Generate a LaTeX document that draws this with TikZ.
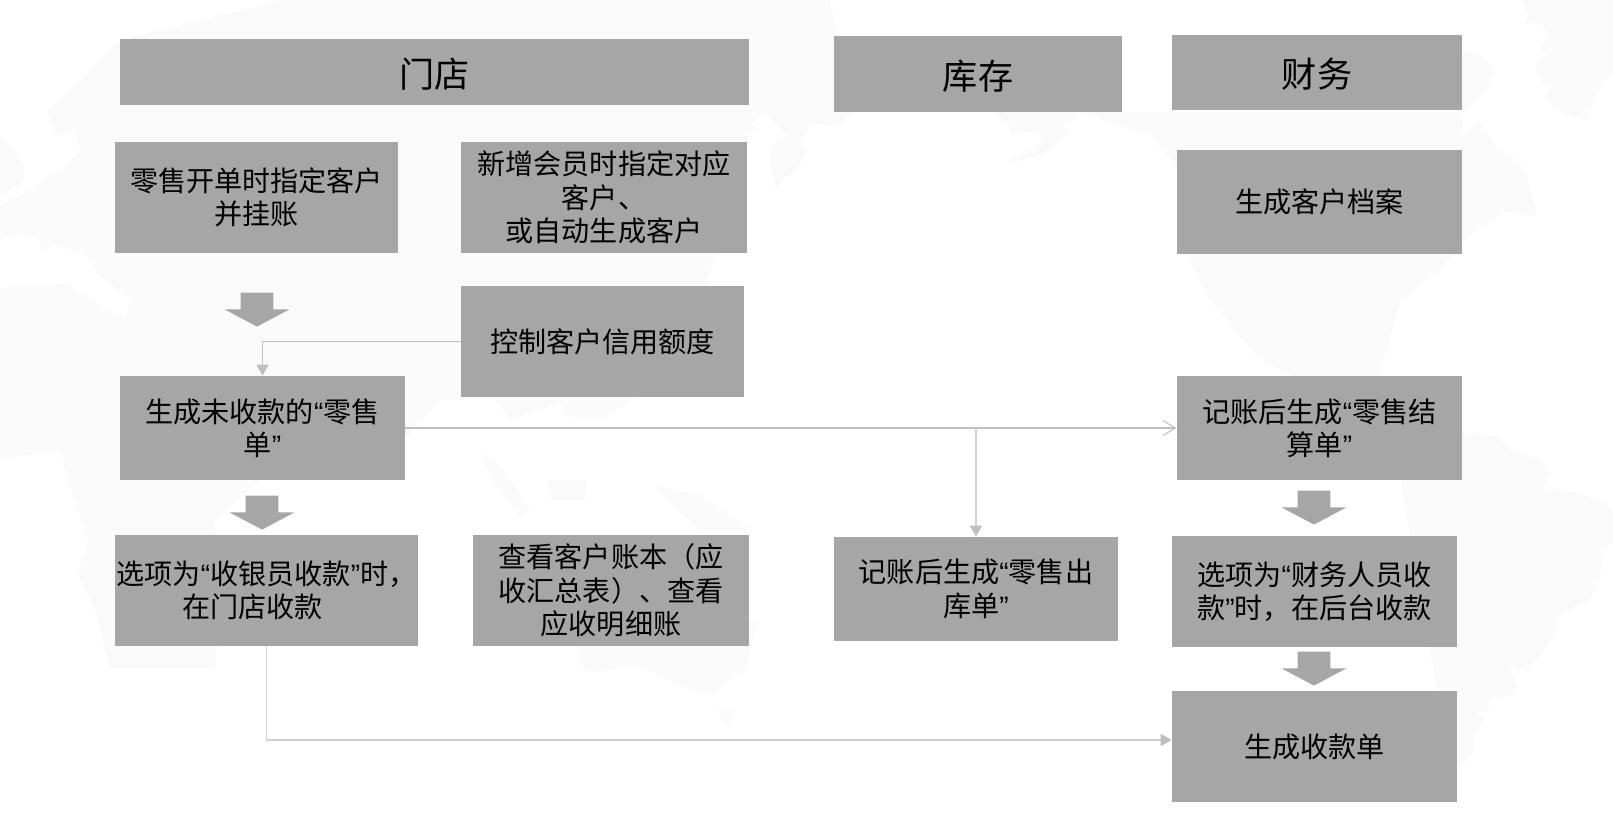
\documentclass[tikz,border=0pt]{standalone}
\usepackage{fontspec}
\setmainfont{Noto Sans CJK SC}
\newfontfamily\latinfont{Liberation Sans}
\usetikzlibrary{arrows.meta,shapes.arrows}
\definecolor{boxgray}{HTML}{A6A6A6}
\definecolor{mapgray}{HTML}{FAFAFA}
\definecolor{linegray}{HTML}{BFBFBF}
\definecolor{lightgray}{HTML}{D0D0D0}
\newcommand{\qopen}{{\latinfont “}}
\newcommand{\qclose}{{\latinfont ”}}
\tikzset{
  boxsize/.style 2 args={minimum width=#1*0.02cm, minimum height=#2*0.02cm},
  basebox/.style={fill=boxgray, text=black, inner sep=0pt, align=center},
  headbox/.style={basebox, font=\fontsize{20}{24}\selectfont, text height=19pt, text depth=1.5pt},
  textbox/.style={basebox, font=\fontsize{16}{19}\selectfont},
  fatarrow/.style={single arrow, fill=boxgray, inner xsep=0pt, inner ysep=0.32cm, rotate=-90, anchor=tip,
    minimum height=0.68cm, minimum width=1.28cm, single arrow head extend=0.32cm,
    single arrow tip angle=124, single arrow head indent=0pt},
  link/.style={draw=linegray, line width=0.6pt},
  linklight/.style={draw=lightgray, line width=0.8pt},
  solidtip/.style={-{Triangle[length=0.22cm,width=0.24cm,color=linegray]}},
  opentip/.style={-{Straight Barb[length=0.26cm,width=0.3cm]}}
}
\begin{document}
\begin{tikzpicture}[x=0.02cm,y=-0.02cm]
  \useasboundingbox (0,0) rectangle (1613,828);
  \fill[mapgray] (47,111) -- (83,79) -- (113,45) -- (138,35) -- (285,0) -- (830,0) -- (853,113) -- (838,125) -- (810,124) -- (802,140) -- (806,152) -- (800,165) -- (790,175) -- (783,178) -- (776,190) -- (770,165) -- (771,145) -- (780,140) -- (787,135) -- (763,112) -- (749,125) -- (760,130) -- (749,133) -- (745,170) -- (700,300) -- (640,395) -- (600,420) -- (560,415) -- (570,400) -- (510,420) -- (495,400) -- (440,400) -- (405,440) -- (330,440) -- (260,480) -- (215,520) -- (220,600) -- (215,668) -- (110,668) -- (95,610) -- (78,575) -- (88,540) -- (68,480) -- (60,450) -- (30,455) -- (0,458) -- (0,288) -- (70,283) -- (75,290) -- (125,320) -- (130,300) -- (100,275) -- (85,255) -- (60,245) -- (40,250) -- (40,240) -- (20,235) -- (0,240) -- (0,205) -- (30,190) -- (45,178) -- (62,172) -- (80,150) -- (75,130) -- (55,135) -- cycle;
  \fill[mapgray] (0,135) -- (15,150) -- (25,170) -- (20,185) -- (0,195) -- cycle;
  \fill[mapgray] (480,453) -- (500,465) -- (530,510) -- (520,517) -- (495,485) -- cycle;
  \fill[mapgray] (547,480) -- (587,480) -- (585,500) -- (550,500) -- cycle;
  \fill[mapgray] (653,485) -- (700,495) -- (753,530) -- (700,530) -- cycle;
  \fill[mapgray] (577,646) -- (758,620) -- (745,670) -- (710,695) -- (680,685) -- (640,665) -- (585,672) -- cycle;
  \fill[mapgray] (717,707) -- (735,710) -- (730,725) -- (722,722) -- cycle;
  \fill[mapgray] (1522,0) -- (1528,15) -- (1523,25) -- (1540,22) -- (1548,35) -- (1540,50) -- (1548,55) -- (1535,65) -- (1540,80) -- (1550,90) -- (1545,95) -- (1555,108) -- (1575,118) -- (1585,120) -- (1590,110) -- (1595,95) -- (1605,78) -- (1613,75) -- (1613,0) -- cycle;
  \fill[mapgray] (1462,50) -- (1480,55) -- (1495,68) -- (1490,85) -- (1480,95) -- (1470,105) -- (1462,115) -- cycle;
  \fill[mapgray] (993,112) -- (1010,125) -- (1010,135) -- (1030,132) -- (1045,138) -- (1030,150) -- (1005,163) -- (1035,158) -- (1055,145) -- (1070,130) -- (1060,125) -- (1085,115) -- (1120,125) -- (1150,135) -- (1175,165) -- (1185,180) -- (1190,260) -- (1210,300) -- (1260,360) -- (1300,380) -- (1380,376) -- (1400,300) -- (1440,270) -- (1470,235) -- (1505,212) -- (1537,215) -- (1525,170) -- (1510,155) -- (1495,145) -- (1480,122) -- (1462,135) -- (1462,112) -- cycle;
  \fill[mapgray] (1400,428) -- (1497,436) -- (1513,452) -- (1540,460) -- (1550,473) -- (1543,489) -- (1573,492) -- (1600,500) -- (1613,510) -- (1613,540) -- (1602,555) -- (1600,577) -- (1590,600) -- (1575,606) -- (1557,619) -- (1555,635) -- (1527,672) -- (1510,667) -- (1517,688) -- (1510,696) -- (1490,698) -- (1488,712) -- (1477,712) -- (1483,720) -- (1475,735) -- (1473,751) -- (1462,767) -- (1445,760) -- (1440,720) -- (1437,690) -- (1420,600) -- (1401,483) -- cycle;

  \node[headbox, boxsize={629}{66}] (h1) at (434.5,72) {门店};
  \node[headbox, boxsize={288}{76}] (h2) at (978,74) {库存};
  \node[headbox, boxsize={290}{75}] (h3) at (1317,72.5) {财务};

  \node[textbox, boxsize={283}{111}] (s1) at (256.5,197.5) {零售开单时指定客户\\并挂账};
  \node[textbox, boxsize={286}{111}] (s2) at (604,197.5) {新增会员时指定对应\\客户、\\或自动生成客户};
  \node[textbox, boxsize={283}{111}] (s3) at (602.5,341.5) {控制客户信用额度};
  \node[textbox, boxsize={285}{104}] (s4) at (262.5,428) {生成未收款的\qopen 零售\\单\qclose};
  \node[textbox, boxsize={303}{111}] (s5) at (266.5,590.5) {选项为\qopen 收银员收款\qclose 时，\\在门店收款\hspace*{1em}};
  \node[textbox, boxsize={276}{111}] (s6) at (611,590.5) {查看客户账本（应\\收汇总表）、查看\\应收明细账};

  \node[textbox, boxsize={284}{104}] (w1) at (976,589) {记账后生成\qopen 零售出\\库单\qclose};

  \node[textbox, boxsize={285}{104}] (f1) at (1319.5,202) {生成客户档案};
  \node[textbox, boxsize={285}{104}] (f2) at (1319.5,428) {记账后生成\qopen 零售结\\算单\qclose};
  \node[textbox, boxsize={285}{111}] (f3) at (1314.5,591.5) {选项为\qopen 财务人员收\\款\qclose 时，在后台收款};
  \node[textbox, boxsize={285}{111}] (f4) at (1314.5,746.5) {生成收款单};

  \node[fatarrow] (a1) at (257,327) {};
  \node[fatarrow] (a2) at (262,530) {};
  \node[fatarrow] (a3) at (1314,525) {};
  \node[fatarrow] (a4) at (1314,686) {};

  \coordinate (c1) at (s4.east -| w1.north);
  \draw[link,solidtip] (s3.west) -| (s4.north);
  \path[link,opentip] (s4) edge (f2);
  \draw[linklight,solidtip] (c1) -- (w1.north);
  \draw[linklight,solidtip] (s5.south) |- ([yshift=0.13cm]f4.west);
\end{tikzpicture}
\end{document}
